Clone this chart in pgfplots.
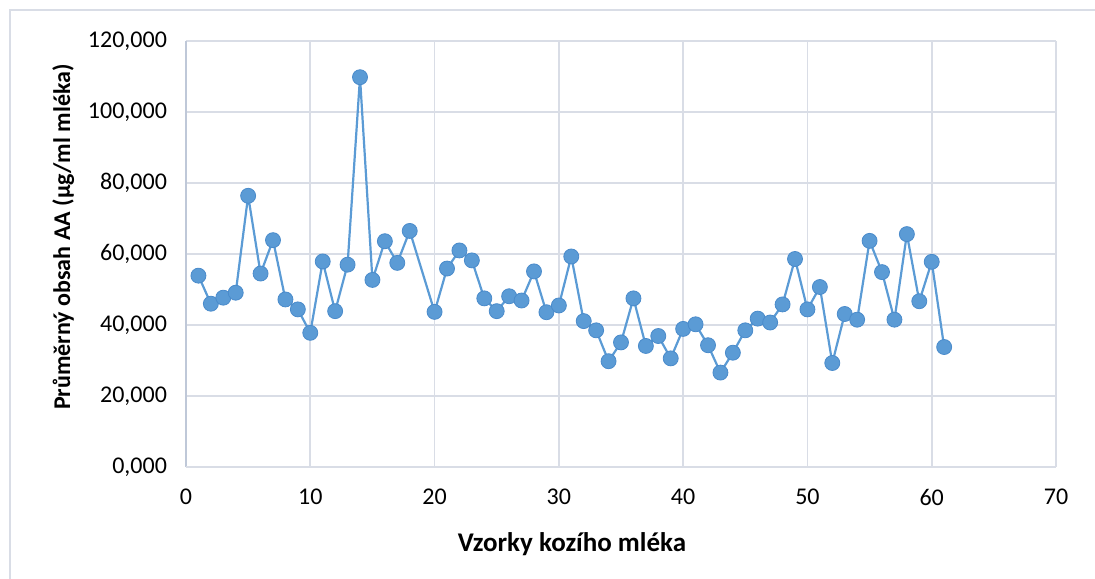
\documentclass[border=0pt]{standalone}
\usepackage{fontspec}
\setmainfont{Carlito}
\usepackage{pgfplots}
\pgfplotsset{compat=1.18}
\usetikzlibrary{calc}

\definecolor{serie}{HTML}{5B9BD5}
\definecolor{serieedge}{HTML}{4A8BCB}
\definecolor{mrizka}{HTML}{D9DDE6}
\definecolor{osa}{HTML}{BFC8D8}

\begin{document}
\begin{tikzpicture}
\begin{axis}[
  name=ax,
  scale only axis,
  width=435pt, height=213pt,
  xmin=0, xmax=70, ymin=0, ymax=120,
  xtick={0,10,...,70},
  ytick={0,20,...,120},
  yticklabel={\pgfmathprintnumber[fixed,fixed zerofill,precision=3,use comma,1000 sep={}]{\tick}},
  /pgf/number format/assume math mode=true,
  ticklabel style={font=\fontsize{12}{14}\selectfont, text=black},
  xticklabel style={yshift=-7.5pt},
  yticklabel style={xshift=-6pt},
  xlabel={\textbf{Vzorky kozího mléka}},
  ylabel={\textbf{Průměrný obsah AA (µg/ml mléka)}},
  xlabel style={font=\fontsize{13.5}{15}\selectfont, yshift=-6.5pt, xshift=-24.5pt},
  ylabel style={font=\fontsize{12}{14}\selectfont, yshift=0pt, xshift=8.5pt},
  grid=major,
  major grid style={mrizka, line width=0.9pt},
  axis line style={draw=none},
  tick style={draw=none},
  clip=false,
]
\draw[osa, line width=1pt] (rel axis cs:0,0) -- (rel axis cs:0,1);
\draw[mrizka, line width=1pt] (rel axis cs:0,0) -- (rel axis cs:1,0);
\addplot[serie, line width=1.1pt, mark=*, mark size=3.75pt,
  mark options={fill=serie, draw=serieedge, line width=0.4pt}]
  coordinates {
  (1,53.9) (2,46.0) (3,47.7) (4,49.1) (5,76.4) (6,54.5) (7,63.9) (8,47.2)
  (9,44.4) (10,37.8) (11,57.9) (12,43.9) (13,57.0) (14,109.8) (15,52.7)
  (16,63.6) (17,57.5) (18,66.5) (20,43.7) (21,55.9) (22,61.0) (23,58.2)
  (24,47.5) (25,43.9) (26,48.1) (27,46.9) (28,55.1) (29,43.6) (30,45.5)
  (31,59.3) (32,41.1) (33,38.5) (34,29.8) (35,35.1) (36,47.5) (37,34.1)
  (38,36.9) (39,30.6) (40,38.9) (41,40.2) (42,34.3) (43,26.6) (44,32.2)
  (45,38.5) (46,41.8) (47,40.7) (48,45.8) (49,58.6) (50,44.4) (51,50.7)
  (52,29.3) (53,43.1) (54,41.5) (55,63.7) (56,54.9) (57,41.5) (58,65.6)
  (59,46.7) (60,57.8) (61,33.8)
  };
\end{axis}
\path[use as bounding box] ($(ax.south west)+(-93pt,-55.5pt)$) rectangle ($(ax.north east)+(19.5pt,20.5pt)$);
\draw[mrizka, line width=0.8pt] ($(ax.south west)+(-88pt,-56pt)$) -- ($(ax.north west)+(-88pt,15.5pt)$) -- ($(ax.north east)+(20pt,15.5pt)$);
\end{tikzpicture}
\end{document}
